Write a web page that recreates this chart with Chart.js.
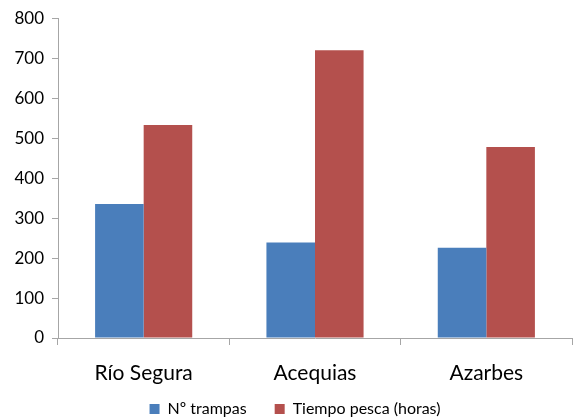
<!DOCTYPE html>
<html>
<head>
<meta charset="utf-8">
<script src="https://cdn.jsdelivr.net/npm/chart.js@4/dist/chart.umd.min.js"></script>
<style>
  html, body { margin: 0; padding: 0; background: #fff; }
  #wrap { width: 576px; height: 417px; }
</style>
</head>
<body>
<div id="wrap"><canvas id="c" width="576" height="417"></canvas></div>
<script>
const categories = ['Río Segura', 'Acequias', 'Azarbes'];
const trampas = [335, 239, 226];
const tiempoPesca = [533, 720, 478];
const seriesNames = ['Nº trampas', 'Tiempo pesca (horas)'];

const axisColor = '#a6a6a6';
const font = "Lato, 'Open Sans', 'Liberation Sans', sans-serif";

// The legend keeps wide spacing between its items but only reserves a thin
// strip at the bottom; its drawing is shifted into place.
const LEGEND_HEIGHT = 19;
const LEGEND_SHIFT = { x: 9, y: -25 };
const legendPlugin = Chart.registry.getPlugin('legend');
if (legendPlugin && legendPlugin._element) {
  const proto = legendPlugin._element.prototype;
  const origFit = proto.fit;
  proto.fit = function () {
    origFit.call(this);
    if (this.isHorizontal()) this.height = LEGEND_HEIGHT;
  };
  proto.draw = function () {
    if (!this.options.display) return;
    const ctx = this.ctx;
    ctx.save();
    ctx.translate(LEGEND_SHIFT.x, LEGEND_SHIFT.y);
    this._draw();
    ctx.restore();
  };
}

new Chart(document.getElementById('c'), {
  type: 'bar',
  data: {
    labels: categories,
    datasets: [
      { label: seriesNames[0], data: trampas, backgroundColor: '#4a7ebb', borderWidth: 0 },
      { label: seriesNames[1], data: tiempoPesca, backgroundColor: '#b4504d', borderWidth: 0 }
    ]
  },
  options: {
    responsive: false,
    animation: false,
    devicePixelRatio: 1,
    datasets: { bar: { barPercentage: 1, categoryPercentage: 0.567 } },
    layout: { padding: { top: 12, right: 4, left: 0, bottom: 0 } },
    plugins: {
      tooltip: { enabled: false },
      legend: {
        position: 'bottom',
        labels: {
          font: { family: font, size: 16 },
          color: '#000',
          boxWidth: 10,
          boxHeight: 10,
          padding: 28
        }
      }
    },
    scales: {
      x: {
        grid: { display: true, drawOnChartArea: false, offset: true, color: axisColor, tickLength: 7 },
        border: { color: axisColor },
        ticks: { font: { family: font, size: 21 }, color: '#000', padding: 16 },
        afterFit(scale) { scale.height = 60; }
      },
      y: {
        min: 0, max: 800,
        grid: { display: true, drawOnChartArea: false, color: axisColor, tickLength: 6 },
        border: { color: axisColor },
        ticks: { stepSize: 100, font: { family: font, size: 17 }, color: '#000', padding: 8 },
        afterFit(scale) { scale.width = 58; }
      }
    }
  }
});
</script>
</body>
</html>
